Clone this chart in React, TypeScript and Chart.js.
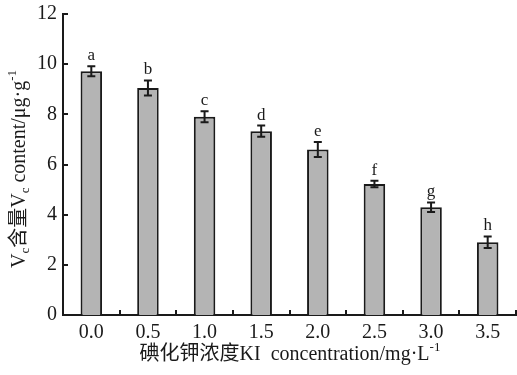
import React, { useEffect, useRef } from 'react';
import { Chart, registerables } from 'chart.js';

Chart.register(...registerables);

const categories = ['0.0', '0.5', '1.0', '1.5', '2.0', '2.5', '3.0', '3.5'];
const vcValues = [9.72, 9.05, 7.9, 7.33, 6.6, 5.22, 4.3, 2.9];
const vcErrors = [0.2, 0.3, 0.22, 0.22, 0.3, 0.13, 0.19, 0.23];
const sigLetters = ['a', 'b', 'c', 'd', 'e', 'f', 'g', 'h'];
const yMin = 0;
const yMax = 12;
const yStep = 2;

type Seg = { t: string; k?: 'sub' | 'sup' };
const yTitle: Seg[] = [
  { t: 'V' }, { t: 'c', k: 'sub' }, { t: '含量V' }, { t: 'c', k: 'sub' },
  { t: ' content/μg·g' }, { t: '-1', k: 'sup' },
];
const xTitle: Seg[] = [
  { t: '碘化钾浓度KI  concentration/mg·L' }, { t: '-1', k: 'sup' },
];

const FAMILY = '"Liberation Serif", "Times New Roman", "Noto Sans CJK SC", serif';
const INK = '#1a1a1a';

function drawRich(ctx: CanvasRenderingContext2D, segs: Seg[], size: number) {
  const small = Math.round(size * 0.65);
  const fontOf = (s: Seg) => `${s.k ? small : size}px ${FAMILY}`;
  let total = 0;
  const widths = segs.map((s) => {
    ctx.font = fontOf(s);
    const w = ctx.measureText(s.t).width;
    total += w;
    return w;
  });
  let x = -total / 2;
  ctx.textBaseline = 'middle';
  ctx.textAlign = 'left';
  segs.forEach((s, i) => {
    ctx.font = fontOf(s);
    let dy = 0;
    if (s.k === 'sub') dy = size * 0.28;
    if (s.k === 'sup') dy = -size * 0.35;
    ctx.fillText(s.t, x, dy);
    x += widths[i];
  });
}

const decorPlugin = {
  id: 'decor',
  afterDatasetsDraw(chart: any) {
    const ctx: CanvasRenderingContext2D = chart.ctx;
    const xs = chart.scales.x;
    const ys = chart.scales.y;
    const meta = chart.getDatasetMeta(0);
    const area = chart.chartArea;
    ctx.save();
    ctx.strokeStyle = INK;
    ctx.fillStyle = INK;
    vcValues.forEach((v, i) => {
      const bar = meta.data[i];
      const x = bar.x;
      const yt = ys.getPixelForValue(v + vcErrors[i]);
      const yb = ys.getPixelForValue(v - vcErrors[i]);
      ctx.lineWidth = 2;
      ctx.beginPath();
      ctx.moveTo(x, yt);
      ctx.lineTo(x, yb);
      ctx.moveTo(x - 4, yt);
      ctx.lineTo(x + 4, yt);
      ctx.moveTo(x - 4, yb);
      ctx.lineTo(x + 4, yb);
      ctx.stroke();
      ctx.font = `17px ${FAMILY}`;
      ctx.textAlign = 'center';
      ctx.textBaseline = 'alphabetic';
      ctx.fillText(sigLetters[i], x, yt - 6);
    });
    ctx.lineWidth = 2;
    for (let v = yMin; v <= yMax; v += yStep) {
      const y = Math.round(ys.getPixelForValue(v));
      ctx.beginPath();
      ctx.moveTo(area.left, y);
      ctx.lineTo(area.left + 5, y);
      ctx.stroke();
    }
    for (let i = 0; i < categories.length; i++) {
      const x = Math.round(xs.getPixelForValue(i + 0.5));
      ctx.beginPath();
      ctx.moveTo(x, area.bottom);
      ctx.lineTo(x, area.bottom - 5);
      ctx.stroke();
    }
    ctx.restore();
  },
  afterDraw(chart: any) {
    const ctx: CanvasRenderingContext2D = chart.ctx;
    ctx.save();
    ctx.fillStyle = INK;
    ctx.translate(290, 355);
    drawRich(ctx, xTitle, 20);
    ctx.restore();
    ctx.save();
    ctx.fillStyle = INK;
    ctx.translate(20, 169);
    ctx.rotate(-Math.PI / 2);
    drawRich(ctx, yTitle, 20);
    ctx.restore();
  },
};

export default function App() {
  const ref = useRef<HTMLCanvasElement | null>(null);
  useEffect(() => {
    if (!ref.current) return;
    const chart = new Chart(ref.current, {
      type: 'bar',
      data: {
        labels: categories,
        datasets: [
          {
            data: vcValues,
            backgroundColor: '#b4b4b4',
            borderColor: INK,
            borderWidth: 2,
            barPercentage: 0.38,
            categoryPercentage: 1,
          },
        ],
      },
      options: {
        responsive: false,
        animation: false,
        devicePixelRatio: 1,
        layout: { padding: { top: 14, right: 1, left: 0, bottom: 0 } },
        plugins: { legend: { display: false }, tooltip: { enabled: false } },
        scales: {
          x: {
            type: 'category',
            offset: true,
            grid: { display: false, drawTicks: false },
            border: { display: true, color: INK, width: 2 },
            ticks: { color: INK, padding: 6, font: { family: FAMILY, size: 20 } },
            afterFit: (s: any) => { s.height = 60; s.paddingLeft = 0; s.paddingRight = 0; },
          },
          y: {
            min: yMin,
            max: yMax,
            grid: { display: false, drawTicks: false },
            border: { display: true, color: INK, width: 2 },
            ticks: { stepSize: yStep, color: INK, padding: 6, font: { family: FAMILY, size: 20 } },
            afterFit: (s: any) => { s.width = 63; s.paddingTop = 0; s.paddingBottom = 0; },
          },
        },
      },
      plugins: [decorPlugin],
    });
    return () => chart.destroy();
  }, []);
  return (
    <div style={{ position: 'absolute', left: 0, top: 0, width: 517, height: 375, background: '#fff' }}>
      <canvas ref={ref} width={517} height={375} />
    </div>
  );
}
